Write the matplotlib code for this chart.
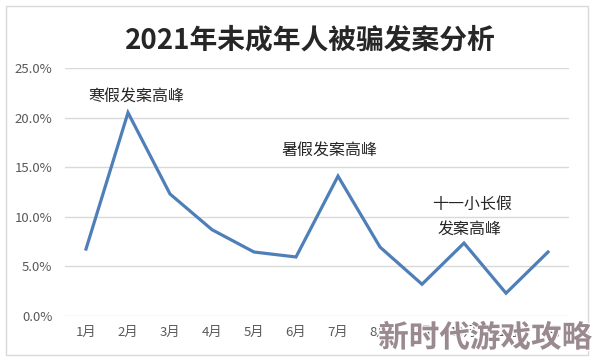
import matplotlib
matplotlib.use("Agg")
import matplotlib.pyplot as plt
from matplotlib.patches import Rectangle
import matplotlib.patheffects as pe

plt.rcParams['font.family'] = ['Noto Sans CJK SC', 'DejaVu Sans']

months = ['1月', '2月', '3月', '4月', '5月', '6月', '7月', '8月', '9月', '10月', '11月', '12月']
values = [6.75, 20.5, 12.3, 8.7, 6.45, 5.95, 14.1, 6.95, 3.2, 7.35, 2.3, 6.45]
yticks = [0, 5, 10, 15, 20, 25]
title = '2021年未成年人被骗发案分析'
notes = [('寒假发案高峰', 1.2, 22.2), ('暑假发案高峰', 5.8, 16.7),
         ('十一小长假', 9.19, 11.3), ('发案高峰', 9.14, 8.75)]

W, H = 594, 363
fig = plt.figure(figsize=(W / 100, H / 100), dpi=100)
fig.patches.append(Rectangle((6 / W, 8 / H), 582 / W, 349 / H, transform=fig.transFigure,
                             fill=False, edgecolor='#d9d9d9', linewidth=1))

ax = fig.add_axes([65 / W, 1 - 316 / H, 504 / W, 248 / H])
x = list(range(len(months)))
ax.plot(x, values, color='#4f7fb8', linewidth=2.3, solid_joinstyle='miter', zorder=3)
ax.set_xlim(-0.5, len(months) - 0.5)
ax.set_ylim(0, 25)
ax.set_yticks(yticks)
ax.set_yticklabels([f'{v:.1f}%' for v in yticks])
ax.set_xticks(x)
ax.set_xticklabels(months)
for s in ax.spines.values():
    s.set_visible(False)
ax.grid(axis='y', color='#d9d9d9', linewidth=1)
ax.set_axisbelow(True)
ax.tick_params(length=0, colors='#595959', labelsize=9.5)
ax.tick_params(axis='y', pad=9)
ax.tick_params(axis='x', pad=7)

for text, xi, yi in notes:
    ax.text(xi, yi, text, ha='center', va='center', fontsize=11.5, color='#262626')

fig.text(310 / W, 1 - 40 / H, title, ha='center', va='center', fontsize=20, fontweight='bold', color='#262626')

fig.text(485 / W, 1 - 338 / H, '新时代游戏攻略', ha='center', va='center', fontsize=22, fontweight='bold',
         color='#9a8a8f', zorder=10, path_effects=[pe.withStroke(linewidth=2, foreground='white')])

fig.savefig('out.png', dpi=100, facecolor='white')
